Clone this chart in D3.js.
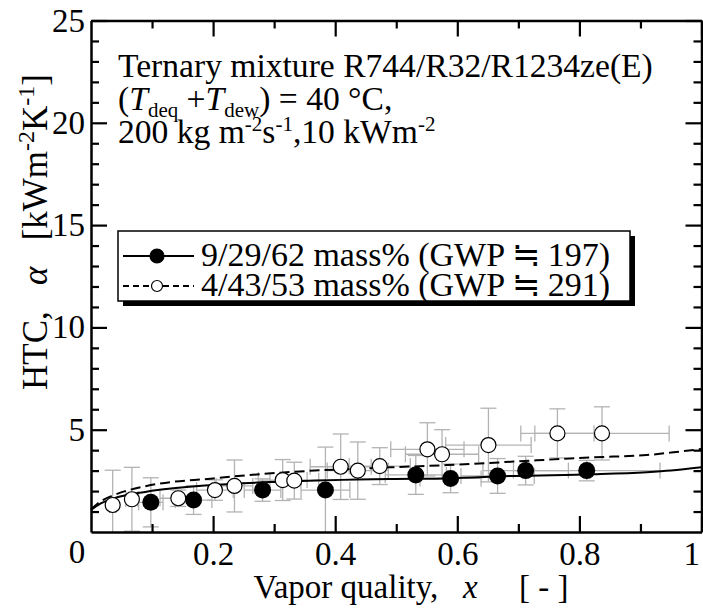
<!DOCTYPE html>
<html><head><meta charset="utf-8">
<script src="https://cdn.jsdelivr.net/npm/d3@7"></script>
<style>
body{margin:0;background:#fff;}
svg text{font-family:"Liberation Serif","Times New Roman",serif;fill:#000;}
</style>
</head><body>
<svg id="chart" width="703" height="609"></svg>
<script>
// ---------- data ----------
const xMajorTicks = [0.2, 0.4, 0.6, 0.8, 1];
const xTickLabels = ["0.2", "0.4", "0.6", "0.8", "1"];
const xMinorTicks = [0.1, 0.3, 0.5, 0.7, 0.9];
const yMajorTicks = [5, 10, 15, 20, 25];
const yTickLabels = ["5", "10", "15", "20", "25"];
const yMinorTicks = [1,2,3,4,6,7,8,9,11,12,13,14,16,17,18,19,21,22,23,24];

// 9/29/62 mass% (filled circles)
const s1X  = [0.098, 0.168, 0.281, 0.384, 0.532, 0.589, 0.666, 0.712, 0.812];
const s1Y  = [1.45, 1.56, 2.05, 2.05, 2.79, 2.62, 2.74, 3.00, 3.00];
const s1Ex = [0.02, 0.03, 0.03, 0.04, 0.05, 0.05, 0.06, 0.07, 0.12];
const s1Ey = [1.2, 0.7, 0.55, 2.1, 0.95, 0.7, 0.85, 0.7, 0.5];

// 4/43/53 mass% (open circles)
const s2X  = [0.0355, 0.067, 0.143, 0.203, 0.235, 0.314, 0.333, 0.409, 0.437, 0.473, 0.551, 0.575, 0.651, 0.764, 0.837];
const s2Y  = [1.32, 1.60, 1.65, 2.05, 2.25, 2.54, 2.51, 3.19, 3.00, 3.22, 4.04, 3.80, 4.25, 4.82, 4.82];
const s2Ex = [0.005, 0.01, 0.03, 0.03, 0.03, 0.04, 0.04, 0.05, 0.05, 0.05, 0.06, 0.06, 0.07, 0.06, 0.11];
const s2Ey = [1.7, 1.56, 0.4, 0.5, 1.27, 1.0, 0.9, 1.6, 1.4, 0.9, 1.3, 1.2, 1.8, 1.2, 1.3];

// model curves
const curveX  = [0, 0.016, 0.038, 0.091, 0.2, 0.31, 0.49, 0.583, 0.692, 0.822, 0.91, 0.95, 1.0];
const curve1Y = [1.07, 1.40, 1.65, 1.97, 2.30, 2.46, 2.59, 2.62, 2.74, 2.82, 2.92, 3.00, 3.16];
const curve2Y = [1.10, 1.50, 1.81, 2.25, 2.62, 2.90, 3.16, 3.27, 3.44, 3.65, 3.76, 3.88, 4.06];

const legendLabels = ["9/29/62 mass% (GWP\u2009\u2252\u2009197)", "4/43/53 mass% (GWP\u2009\u2252\u2009291)"];

// ---------- chart ----------
const svg = d3.select("#chart");
const x = d3.scaleLinear().domain([0, 1]).range([91, 701.5]);
const y = d3.scaleLinear().domain([0, 25]).range([532, 20.5]);
const FS = 33;

// error bars
const errG = svg.append("g").attr("stroke", "#b3b3b3").attr("stroke-width", 1.3).attr("fill", "none");
function errBars(X, Y, EX, EY) {
  X.forEach((xv, i) => {
    const yv = Y[i];
    const y0 = Math.max(0, yv - EY[i]), y1 = yv + EY[i];
    const x0 = Math.max(0, xv - EX[i]), x1 = xv + EX[i];
    errG.append("line").attr("x1", x(xv)).attr("x2", x(xv)).attr("y1", y(y0)).attr("y2", y(y1));
    errG.append("line").attr("x1", x(xv) - 8).attr("x2", x(xv) + 8).attr("y1", y(y1)).attr("y2", y(y1));
    if (yv - EY[i] > 0) errG.append("line").attr("x1", x(xv) - 8).attr("x2", x(xv) + 8).attr("y1", y(y0)).attr("y2", y(y0));
    errG.append("line").attr("x1", x(x0)).attr("x2", x(x1)).attr("y1", y(yv)).attr("y2", y(yv));
    errG.append("line").attr("x1", x(x0)).attr("x2", x(x0)).attr("y1", y(yv) - 8).attr("y2", y(yv) + 8);
    errG.append("line").attr("x1", x(x1)).attr("x2", x(x1)).attr("y1", y(yv) - 8).attr("y2", y(yv) + 8);
  });
}
errBars(s1X, s1Y, s1Ex, s1Ey);
errBars(s2X, s2Y, s2Ex, s2Ey);

// curves
const line = d3.line().x(d => x(d[0])).y(d => y(d[1])).curve(d3.curveMonotoneX);
svg.append("path").datum(curveX.map((v, i) => [v, curve1Y[i]]))
  .attr("d", line).attr("fill", "none").attr("stroke", "#000").attr("stroke-width", 2);
svg.append("path").datum(curveX.map((v, i) => [v, curve2Y[i]]))
  .attr("d", line).attr("fill", "none").attr("stroke", "#000").attr("stroke-width", 2)
  .attr("stroke-dasharray", "10,5");

// markers
svg.append("g").selectAll("circle").data(s2X).join("circle")
  .attr("cx", (d) => x(d)).attr("cy", (d, i) => y(s2Y[i])).attr("r", 7.5)
  .attr("fill", "#fff").attr("stroke", "#000").attr("stroke-width", 1.2);
svg.append("g").selectAll("circle").data(s1X).join("circle")
  .attr("cx", (d) => x(d)).attr("cy", (d, i) => y(s1Y[i])).attr("r", 8.5)
  .attr("fill", "#000");

// axes
function styleAxis(g) {
  g.select(".domain").attr("stroke", "#000").attr("stroke-width", 2.5);
  g.selectAll(".tick line").attr("stroke", "#000").attr("stroke-width", 2.2);
  g.selectAll("text").style("font-size", FS + "px").attr("fill", "#000");
}
const gx = svg.append("g").attr("transform", `translate(0,${y(0)})`)
  .call(d3.axisBottom(x).tickValues(xMajorTicks).tickSize(-16).tickSizeOuter(0).tickPadding(10)
    .tickFormat((d, i) => xTickLabels[i]));
styleAxis(gx);
gx.selectAll("text").filter((d) => d === 1).attr("text-anchor", "end").attr("dx", "-2");
svg.append("g").attr("transform", `translate(0,${y(0)})`)
  .call(d3.axisBottom(x).tickValues(xMinorTicks).tickSize(-8).tickSizeOuter(0).tickFormat(""))
  .call(styleAxis).select(".domain").remove();
// top axis
const gxt = svg.append("g").attr("transform", `translate(0,${y(25)})`)
  .call(d3.axisTop(x).tickValues(xMajorTicks).tickSize(-16).tickSizeOuter(0).tickFormat(""));
styleAxis(gxt);
svg.append("g").attr("transform", `translate(0,${y(25)})`)
  .call(d3.axisTop(x).tickValues(xMinorTicks).tickSize(-8).tickSizeOuter(0).tickFormat(""))
  .call(styleAxis).select(".domain").remove();

const gy = svg.append("g").attr("transform", `translate(${x(0)},0)`)
  .call(d3.axisLeft(y).tickValues(yMajorTicks).tickSize(-16).tickSizeOuter(0).tickPadding(6)
    .tickFormat((d, i) => yTickLabels[i]));
styleAxis(gy);
svg.append("g").attr("transform", `translate(${x(0)},0)`)
  .call(d3.axisLeft(y).tickValues(yMinorTicks).tickSize(-8).tickSizeOuter(0).tickFormat(""))
  .call(styleAxis).select(".domain").remove();
const gyr = svg.append("g").attr("transform", `translate(${x(1)},0)`)
  .call(d3.axisRight(y).tickValues(yMajorTicks).tickSize(-16).tickSizeOuter(0).tickFormat(""));
styleAxis(gyr);
svg.append("g").attr("transform", `translate(${x(1)},0)`)
  .call(d3.axisRight(y).tickValues(yMinorTicks).tickSize(-8).tickSizeOuter(0).tickFormat(""))
  .call(styleAxis).select(".domain").remove();

// shared origin label
svg.append("text").attr("x", x(0) - 14).attr("y", 563).attr("text-anchor", "middle")
  .style("font-size", FS + "px").text("0");

// axis titles
const xt = svg.append("text").attr("x", 411).attr("y", 598).attr("text-anchor", "middle")
  .style("font-size", "33px").attr("xml:space", "preserve");
xt.append("tspan").text("Vapor quality,   ");
xt.append("tspan").attr("font-style", "italic").text("x");
xt.append("tspan").text("     [ - ]");

const yt = svg.append("text").attr("transform", "translate(47,232) rotate(-90)").attr("text-anchor", "middle")
  .style("font-size", "35px").attr("xml:space", "preserve");
yt.append("tspan").text("HTC,   ");
yt.append("tspan").attr("font-style", "italic").text("\u03b1");
yt.append("tspan").text("   [kWm");
yt.append("tspan").attr("dy", -13).style("font-size", "24px").text("-2");
yt.append("tspan").attr("dy", 13).text("K");
yt.append("tspan").attr("dy", -13).style("font-size", "24px").text("-1");
yt.append("tspan").attr("dy", 13).text("]");

// annotation
const ann = svg.append("g").style("font-size", "33.6px");
ann.append("text").attr("x", 118).attr("y", 77).text("Ternary mixture R744/R32/R1234ze(E)");
const a2 = ann.append("text").attr("x", 118).attr("y", 110).attr("xml:space", "preserve");
a2.append("tspan").text("(");
a2.append("tspan").attr("font-style", "italic").text("T");
a2.append("tspan").attr("dy", 7).style("font-size", "21px").text("deq");
a2.append("tspan").attr("dy", -7).text(" +");
a2.append("tspan").attr("font-style", "italic").text("T");
a2.append("tspan").attr("dy", 7).style("font-size", "21px").text("dew");
a2.append("tspan").attr("dy", -7).text(") = 40 \u00b0C,");
const a3 = ann.append("text").attr("x", 118).attr("y", 143);
a3.append("tspan").text("200 kg m");
a3.append("tspan").attr("dy", -12).style("font-size", "21px").text("-2");
a3.append("tspan").attr("dy", 12).text("s");
a3.append("tspan").attr("dy", -12).style("font-size", "21px").text("-1");
a3.append("tspan").attr("dy", 12).text(",10 kWm");
a3.append("tspan").attr("dy", -12).style("font-size", "21px").text("-2");

// legend
const lg = svg.append("g");
const lx = 118, ly = 231, lw = 512, lh = 70;
lg.append("rect").attr("x", lx + 5).attr("y", ly + 5).attr("width", lw).attr("height", lh).attr("fill", "#000");
lg.append("rect").attr("x", lx).attr("y", ly).attr("width", lw).attr("height", lh)
  .attr("fill", "#fff").attr("stroke", "#000").attr("stroke-width", 1.5);
const rows = [
  {dash: null, fill: "#000", r: 7, ty: 266, sy: 256},
  {dash: "6,4", fill: "#fff", r: 5.5, ty: 296, sy: 286}
];
rows.forEach((rw, i) => {
  lg.append("line").attr("x1", lx + 5).attr("x2", lx + 76).attr("y1", rw.sy).attr("y2", rw.sy)
    .attr("stroke", "#000").attr("stroke-width", 1.8).attr("stroke-dasharray", rw.dash);
  lg.append("circle").attr("cx", lx + 39).attr("cy", rw.sy).attr("r", rw.r)
    .attr("fill", rw.fill).attr("stroke", "#000").attr("stroke-width", 1.2);
  lg.append("text").attr("x", lx + 83).attr("y", rw.ty).style("font-size", "34px").text(legendLabels[i]);
});
</script>
</body></html>
